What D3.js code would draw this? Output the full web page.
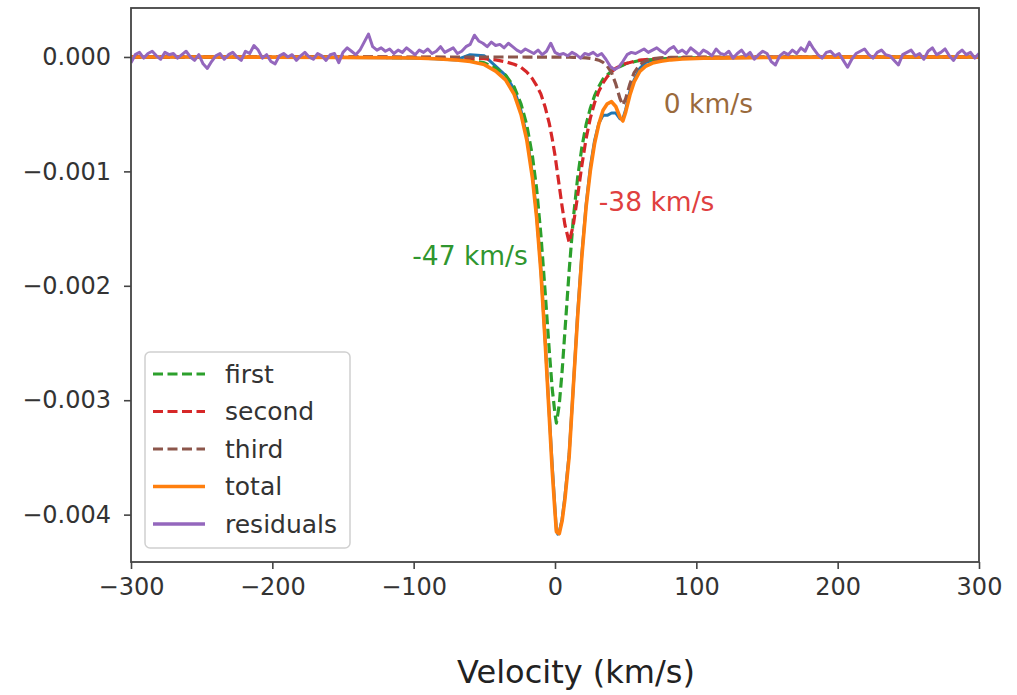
<!DOCTYPE html>
<html><head><meta charset="utf-8">
<script src="https://cdn.jsdelivr.net/npm/d3@7"></script>
<style>body{margin:0;background:#fff} svg{display:block} text{font-family:"DejaVu Sans",sans-serif}</style>
</head><body><svg id="chart" width="1017" height="695"></svg>
<script>
// ---- data ----
const velocity = [-300,-250,-200,-150,-120,-100,-85,-70,-60,-50,
  -42,-35,-29,-24,-20,-16,-13,-10,-7,-4,
  -2,0,1,2,3,5,7,10,13,16,
  19,22,25,28,31,34,37,40,43,46,
  48,50,53,56,60,64,69,75,82,90,
  105,125,150,200,250,300];
const first = [-0.0000003,-0.0000006,-0.000001,-0.0000026,-0.0000048,-0.0000064,-0.000011,-0.00002,-0.000028,-0.000052,
  -0.000098,-0.000158,-0.00026,-0.000412,-0.000592,-0.000864,-0.001152,-0.001552,-0.002048,-0.002576,
  -0.002896,-0.00312,-0.0032,-0.00312,-0.00304,-0.002752,-0.0024,-0.001872,-0.001408,-0.001056,
  -0.00079,-0.000592,-0.000448,-0.000339,-0.000259,-0.000192,-0.000158,-0.000123,-0.0001,-0.000083,
  -0.000072,-0.00006,-0.000049,-0.000042,-0.000031,-0.000027,-0.000022,-0.000018,-0.000012,-0.00001,
  -0.0000061,-0.0000045,-0.0000026,-0.000001,-0.0000006,-0.0000003];
const second = [-0.0000002,-0.0000003,-0.0000005,-0.0000011,-0.0000021,-0.0000028,-0.000004,-0.0000065,-0.0000105,-0.0000146,
  -0.000025,-0.000042,-0.000063,-0.000091,-0.000131,-0.00019,-0.000251,-0.000324,-0.000437,-0.000583,
  -0.000713,-0.000859,-0.000948,-0.001037,-0.001126,-0.001304,-0.001466,-0.00162,-0.001466,-0.001215,
  -0.000948,-0.000713,-0.000535,-0.0004,-0.0003,-0.000227,-0.000172,-0.000131,-0.000097,-0.000079,
  -0.000068,-0.000057,-0.000048,-0.000039,-0.000028,-0.000022,-0.000016,-0.000013,-0.0000097,-0.0000065,
  -0.000004,-0.0000026,-0.0000016,-0.0000006,-0.0000003,-0.0000002];
const third = [0,0,0,0,0,-0.0000001,-0.0000001,-0.0000001,-0.0000001,-0.0000002,
  -0.0000003,-0.0000003,-0.0000004,-0.0000004,-0.0000005,-0.0000006,-0.0000007,-0.0000007,-0.0000008,-0.0000009,
  -0.0000011,-0.0000013,-0.0000013,-0.0000014,-0.0000015,-0.0000016,-0.000002,-0.0000025,-0.0000032,-0.0000038,
  -0.0000055,-0.0000076,-0.000012,-0.000018,-0.000028,-0.000047,-0.000079,-0.000137,-0.000236,-0.000365,
  -0.00042,-0.000365,-0.000236,-0.000137,-0.000068,-0.000034,-0.000015,-0.0000069,-0.0000034,-0.0000018,
  -0.0000008,-0.0000004,-0.0000002,0,0,0];
const total = [-0.0000005,-0.0000009,-0.0000015,-0.0000037,-0.0000069,-0.0000093,-0.0000151,-0.0000266,-0.0000386,-0.0000668,
  -0.0001233,-0.0002003,-0.0003234,-0.0005034,-0.0007235,-0.0010546,-0.0014037,-0.0018767,-0.0024858,-0.0031599,
  -0.0036101,-0.0039803,-0.0041493,-0.0041584,-0.0041675,-0.0040576,-0.003868,-0.0034945,-0.0028772,-0.0022748,
  -0.0017435,-0.0013126,-0.000995,-0.000757,-0.000587,-0.000466,-0.000409,-0.000391,-0.000433,-0.000527,
  -0.00056,-0.000482,-0.000333,-0.000218,-0.000127,-0.000083,-0.000053,-0.0000379,-0.0000251,-0.0000183,
  -0.0000109,-0.0000075,-0.0000044,-0.0000016,-0.0000009,-0.0000005];
const observed = [-0.0000005,-0.0000009,-0.0000015,-0.0000037,-0.0000069,-0.0000093,-0.0000151,-0.0000266,0.00002,0.00001,
  -0.00008,-0.00016,-0.00028,-0.00047,-0.00069,-0.00102,-0.00138,-0.00185,-0.00247,-0.00313,
  -0.00356,-0.00395,-0.00414,-0.00417,-0.00415,-0.00404,-0.00384,-0.00347,-0.00287,-0.00224,
  -0.00172,-0.00129,-0.00096,-0.00073,-0.00058,-0.00051,-0.00051,-0.00049,-0.00049,-0.00054,
  -0.00054,-0.00046,-0.0003,-0.0002,-0.0001,-0.00005,-0.00003,-0.00002,-0.00001,-0.00001,
  -0.0000109,-0.0000075,-0.0000044,-0.0000016,-0.0000009,-0.0000005];
const residualVelocity = [-300,-297,-294,-291,-288,-285,-282,-279,-276,-273,
  -270,-267,-264,-261,-258,-255,-252,-249,-246,-243,
  -240,-237,-234,-231,-228,-225,-222,-219,-216,-213,
  -210,-207,-204,-201,-198,-195,-192,-189,-186,-183,
  -180,-177,-174,-171,-168,-165,-162,-159,-156,-153,
  -150,-147,-144,-141,-138,-135,-132,-129,-126,-123,
  -120,-117,-114,-111,-108,-105,-102,-99,-96,-93,
  -90,-87,-84,-81,-78,-75,-72,-69,-66,-63,
  -60,-57,-54,-51,-48,-45,-42,-39,-36,-33,
  -30,-27,-24,-21,-18,-15,-12,-9,-6,-3,
  0,3,6,9,12,15,18,21,24,27,
  30,33,36,39,42,45,48,51,54,57,
  60,63,66,69,72,75,78,81,84,87,
  90,93,96,99,102,105,108,111,114,117,
  120,123,126,129,132,135,138,141,144,147,
  150,153,156,159,162,165,168,171,174,177,
  180,183,186,189,192,195,198,201,204,207,
  210,213,216,219,222,225,228,231,234,237,
  240,243,246,249,252,255,258,261,264,267,
  270,273,276,279,282,285,288,291,294,297,300];
const residuals = [-5e-5,2e-5,4e-5,-1e-5,3e-5,5e-5,1e-5,-2e-5,4e-5,2e-5,
  3e-5,-1e-5,2e-5,5e-5,0,-3e-5,2e-5,-6e-5,-10e-5,-4e-5,
  1e-5,3e-5,-2e-5,2e-5,4e-5,0,-3e-5,5e-5,3e-5,10e-5,
  6e-5,-1e-5,2e-5,-4e-5,-6e-5,1e-5,3e-5,0,2e-5,-3e-5,
  1e-5,4e-5,0,-2e-5,3e-5,1e-5,-3e-5,2e-5,3e-5,-5e-5,
  4e-5,8e-5,5e-5,2e-5,6e-5,13e-5,20e-5,9e-5,6e-5,8e-5,
  5e-5,7e-5,3e-5,6e-5,4e-5,8e-5,5e-5,2e-5,6e-5,4e-5,
  7e-5,3e-5,5e-5,9e-5,4e-5,6e-5,8e-5,3e-5,5e-5,9e-5,
  11e-5,19e-5,14e-5,12e-5,9e-5,13e-5,10e-5,11e-5,8e-5,12e-5,
  9e-5,6e-5,4e-5,7e-5,5e-5,3e-5,6e-5,2e-5,5e-5,12e-5,
  4e-5,2e-5,3e-5,1e-5,4e-5,2e-5,-1e-5,3e-5,2e-5,4e-5,
  1e-5,3e-5,-2e-5,-8e-5,-11e-5,-9e-5,-4e-5,2e-5,4e-5,3e-5,
  5e-5,7e-5,4e-5,6e-5,8e-5,5e-5,3e-5,7e-5,9e-5,4e-5,
  6e-5,3e-5,8e-5,5e-5,2e-5,6e-5,4e-5,1e-5,7e-5,3e-5,
  2e-5,5e-5,-1e-5,3e-5,6e-5,1e-5,4e-5,-2e-5,2e-5,5e-5,
  3e-5,-4e-5,-7e-5,1e-5,4e-5,2e-5,6e-5,3e-5,8e-5,5e-5,
  13e-5,7e-5,2e-5,-1e-5,4e-5,5e-5,1e-5,3e-5,-3e-5,-9e-5,
  -2e-5,3e-5,5e-5,7e-5,2e-5,-1e-5,4e-5,6e-5,2e-5,1e-5,
  -3e-5,-7e-5,2e-5,4e-5,6e-5,1e-5,3e-5,-2e-5,5e-5,8e-5,
  2e-5,4e-5,7e-5,1e-5,-3e-5,3e-5,6e-5,2e-5,4e-5,-1e-5,3e-5];
const xTicks = [-300,-200,-100,0,100,200,300];
const yTicks = [0,-0.001,-0.002,-0.003,-0.004];
const legendLabels = ["first","second","third","total","residuals"];
const annotations = [
  {text:"0 km/s", vel:77, val:-0.00049, color:"#9a6a3c"},
  {text:"-38 km/s", vel:31, val:-0.00135, color:"#e0403f"},
  {text:"-47 km/s", vel:-101, val:-0.00182, color:"#2f962f"}
];

// ---- drawing ----
const plot = {left:131, right:979, top:8, bottom:562};
const x = d3.scaleLinear().domain([-300,300]).range([plot.left, plot.right]);
const y = d3.scaleLinear().domain([-0.004414, 0.000428]).range([plot.bottom, plot.top]);
const svg = d3.select('#chart');
svg.append('rect').attr('width',1017).attr('height',695).attr('fill','#fff');
svg.append('defs').append('clipPath').attr('id','clip').append('rect')
  .attr('x',plot.left).attr('y',plot.top).attr('width',plot.right-plot.left).attr('height',plot.bottom-plot.top);

const pts = (xs, ys) => xs.map((v,i) => [v, ys[i]]);
const line = d3.line().x(d => x(d[0])).y(d => y(d[1]));
const g = svg.append('g').attr('clip-path','url(#clip)');
const dash = "10,4.5";
const seriesDefs = [
  {data: pts(velocity, observed), color:"#1f77b4", w:3},
  {data: pts(velocity, first), color:"#2ca02c", w:3.2, dash},
  {data: pts(velocity, second), color:"#d62728", w:3.2, dash},
  {data: pts(velocity, third), color:"#8c564b", w:3.2, dash},
  {data: pts(velocity, total), color:"#ff7f0e", w:3.6},
  {data: pts(residualVelocity, residuals), color:"#9467bd", w:3}
];
seriesDefs.forEach(s => {
  g.append('path').datum(s.data).attr('d', line).attr('fill','none')
    .attr('stroke', s.color).attr('stroke-width', s.w)
    .attr('stroke-linejoin','round')
    .attr('stroke-dasharray', s.dash || null);
});

// axes
const fs = 24;
const xAxis = svg.append('g').attr('transform',`translate(0,${plot.bottom})`)
  .call(d3.axisBottom(x).tickValues(xTicks).tickFormat(d3.format("d")).tickSize(7).tickPadding(9));
const yAxis = svg.append('g').attr('transform',`translate(${plot.left},0)`)
  .call(d3.axisLeft(y).tickValues(yTicks).tickFormat(d3.format(".3f")).tickSize(7).tickPadding(13));
[xAxis, yAxis].forEach(a => {
  a.select('.domain').remove();
  a.selectAll('.tick line').attr('stroke','#444').attr('stroke-width',1.6);
  a.selectAll('.tick text').attr('fill','#333').style('font-size', fs+'px').style('font-family','"DejaVu Sans",sans-serif');
});
svg.append('rect').attr('x',plot.left).attr('y',plot.top)
  .attr('width',plot.right-plot.left).attr('height',plot.bottom-plot.top)
  .attr('fill','none').attr('stroke','#444').attr('stroke-width',1.8);

svg.append('text').attr('x',576).attr('y',683).attr('text-anchor','middle')
  .attr('fill','#222').style('font-size','32px').text('Velocity (km/s)');

// annotations
annotations.forEach(a => {
  svg.append('text').attr('x', x(a.vel)).attr('y', y(a.val))
    .attr('fill', a.color).style('font-size','26.5px').text(a.text);
});

// legend
const lg = svg.append('g');
lg.append('rect').attr('x',145).attr('y',352).attr('width',205).attr('height',196).attr('rx',5)
  .attr('fill','#fff').attr('fill-opacity',0.8).attr('stroke','#d0d0d0').attr('stroke-width',1.5);
const legendColors = ["#2ca02c","#d62728","#8c564b","#ff7f0e","#9467bd"];
legendLabels.forEach((lab,i) => {
  const cy = 374 + i*37.5;
  lg.append('line').attr('x1',153).attr('x2',205).attr('y1',cy).attr('y2',cy)
    .attr('stroke',legendColors[i]).attr('stroke-width',i<3?3.2:3.6)
    .attr('stroke-dasharray', i<3 ? dash : null);
  lg.append('text').attr('x',225).attr('y',cy).attr('dy','0.35em')
    .attr('fill','#333').style('font-size','25px').text(lab);
});
</script></body></html>
